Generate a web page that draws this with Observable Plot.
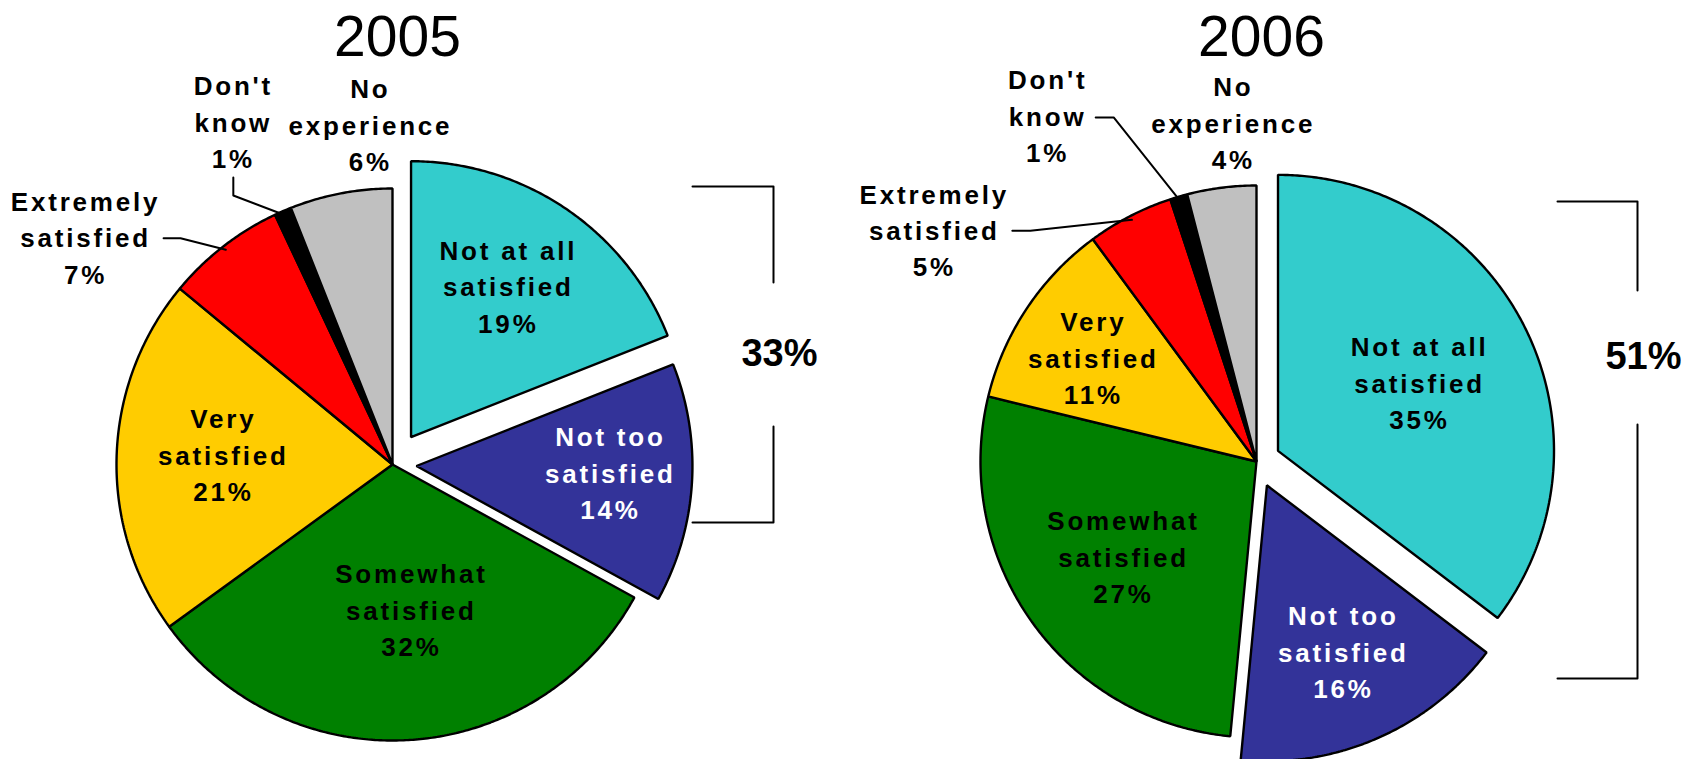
<!DOCTYPE html>
<html><head><meta charset="utf-8">
<script src="https://cdn.jsdelivr.net/npm/d3@7"></script>
<script src="https://cdn.jsdelivr.net/npm/@observablehq/plot@0.6"></script>
<style>
html,body{margin:0;padding:0;background:#fff;}
</style></head><body><div id="chart"></div>
<script>
// ---- data ----
const categories = ["Not at all\nsatisfied","Not too\nsatisfied","Somewhat\nsatisfied","Very\nsatisfied","Extremely\nsatisfied","Don't\nknow","No\nexperience"];
const values2005 = [19,14,32,21,7,1,6];
const values2006 = [35,16,27,11,5,1,4];
const years = ["2005","2006"];
const sliceColors = ["#33CCCC","#333399","#008000","#FFCC00","#FF0000","#000000","#C0C0C0"];
const labelColors = ["#000","#fff","#000","#000","#000","#000","#000"];

// ---- layout ----
const W = 1686, H = 759;
const font = "Liberation Sans, Arial, Helvetica, sans-serif";
const pies = [
  {year: years[0], values: values2005, cx: 392, cy: 464, r: 276, explode: [33,24,0,0,0,0,0],
   labelPolar: [[32.5,0.656],[91.5,0.703],[172.5,0.525],[273.9,0.614],[306.7,1.387],[335.2,1.375],[356.3,1.24]],
   leaders: {4: [[78,2.5],[95,2.5]], 5: [[0,57.5],[0,75.5]]},
   title: [397, 55],
   bracket: {x0: 692, x1: 773, top: 186, bottom: 522, gapTop: 282, gapBottom: 426, tx: 779, ty: 365}},
  {year: years[1], values: values2006, cx: 1256, cy: 461, r: 276, explode: [24,26,0,0,0,0,0],
   labelPolar: [[63.7,0.572],[155.1,0.658],[234.9,0.589],[302.9,0.704],[305.9,1.441],[329.0,1.469],[356.1,1.237]],
   leaders: {4: [[78,2.5],[96,2.5]], 5: [[48,3.5],[66,3.5]]},
   title: [1261, 55],
   bracket: {x0: 1557, x1: 1637, top: 201, bottom: 678, gapTop: 290, gapBottom: 424, tx: 1643, ty: 368}}
];

const marks = [];
const labelsBlack = [], labelsWhite = [], titles = [], totals = [];
const deg = Math.PI / 180;

for (const p of pies) {
  const arcs = d3.pie().sort(null).value(d => d).startAngle(0).endAngle(2 * Math.PI)(p.values);
  arcs.forEach((a, i) => {
    const mid = (a.startAngle + a.endAngle) / 2;
    const e = p.explode[i];
    const ox = p.cx + e * Math.sin(mid), oy = p.cy - e * Math.cos(mid);
    const poly = [{x: ox, y: oy}];
    const n = Math.max(2, Math.ceil((a.endAngle - a.startAngle) / (Math.PI / 360)));
    for (let k = 0; k <= n; k++) {
      const t = a.startAngle + (a.endAngle - a.startAngle) * k / n;
      poly.push({x: ox + p.r * Math.sin(t), y: oy - p.r * Math.cos(t)});
    }
    marks.push(Plot.line(poly, {x: "x", y: "y", curve: "linear-closed", fill: sliceColors[i],
      stroke: "#000", strokeWidth: 2.4, strokeLinejoin: "miter"}));

    // label
    const [ang, rf] = p.labelPolar[i];
    const lx = ox + rf * p.r * Math.sin(ang * deg), ly = oy - rf * p.r * Math.cos(ang * deg);
    const lab = {x: lx, y: ly, text: categories[i] + "\n" + p.values[i] + "%"};
    (labelColors[i] === "#fff" ? labelsWhite : labelsBlack).push(lab);

    // leader
    const L = p.leaders[i];
    if (L) {
      const end = {x: ox + 0.985 * p.r * Math.sin(mid), y: oy - 0.985 * p.r * Math.cos(mid)};
      const pts = [{x: lx + L[0][0], y: ly + L[0][1]}, {x: lx + L[1][0], y: ly + L[1][1]}, end];
      marks.push(Plot.line(pts, {x: "x", y: "y", stroke: "#000", strokeWidth: 2}));
    }
  });
  titles.push({x: p.title[0], y: p.title[1], text: p.year});
  const b = p.bracket;
  marks.push(Plot.line([{x: b.x0, y: b.top}, {x: b.x1, y: b.top}, {x: b.x1, y: b.gapTop}], {x: "x", y: "y", stroke: "#000", strokeWidth: 2}));
  marks.push(Plot.line([{x: b.x1, y: b.gapBottom}, {x: b.x1, y: b.bottom}, {x: b.x0, y: b.bottom}], {x: "x", y: "y", stroke: "#000", strokeWidth: 2}));
  totals.push({x: b.tx, y: b.ty, text: (p.values[0] + p.values[1]) + "%"});
}

marks.push(Plot.text(labelsBlack, {x: "x", y: "y", text: "text", fill: "#000", fontSize: 26, fontWeight: "bold",
  fontFamily: font, lineHeight: 1.4, lineAnchor: "middle"}));
marks.push(Plot.text(labelsWhite, {x: "x", y: "y", text: "text", fill: "#fff", fontSize: 26, fontWeight: "bold",
  fontFamily: font, lineHeight: 1.4, lineAnchor: "middle"}));
marks.push(Plot.text(titles, {x: "x", y: "y", text: "text", fill: "#000", fontSize: 57, fontWeight: "normal",
  fontFamily: font, lineAnchor: "bottom"}));
marks.push(Plot.text(totals, {x: "x", y: "y", text: "text", fill: "#000", fontSize: 38, fontWeight: "bold",
  fontFamily: font, lineAnchor: "bottom"}));

const chart = Plot.plot({
  width: W, height: H,
  marginTop: 0, marginRight: 0, marginBottom: 0, marginLeft: 0,
  x: {domain: [0, W], range: [0, W], axis: null},
  y: {domain: [0, H], range: [0, H], axis: null},
  style: {background: "#fff", fontFamily: font},
  marks
});
// widen the slice labels (letter-spaced, as in the original)
d3.select(chart).selectAll("g").filter(function() { return this.getAttribute("font-size") === "26"; })
  .attr("letter-spacing", "2.8px");
document.getElementById("chart").appendChild(chart);
</script>
</body></html>
